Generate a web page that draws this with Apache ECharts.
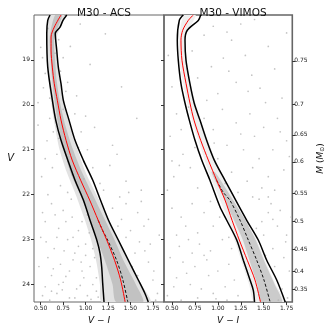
<!DOCTYPE html>
<html><head><meta charset="utf-8">
<script src="https://cdn.jsdelivr.net/npm/echarts@6/dist/echarts.min.js"></script>
<style>html,body{margin:0;padding:0;background:#fff}#c{width:330px;height:330px}</style>
</head><body><div id="c"></div>
<script>
// ---------- data (V-I, V) ----------
const xTicks = [0.5, 0.75, 1.0, 1.25, 1.5, 1.75];
const vTicks = [19, 20, 21, 22, 23, 24];
const massLabels = ['0.75','0.7','0.65','0.6','0.55','0.5','0.45','0.4','0.35'];
const massTickV = [19.02, 19.99, 20.67, 21.27, 21.97, 22.59, 23.21, 23.70, 24.11];
const vRange = [18.0, 24.39];
const acsXRange = [0.425, 1.873];
const vimXRange = [0.413, 1.812];

const acsRed = [[0.726,18.0],[0.651,18.27],[0.615,18.49],[0.615,18.78],[0.629,19.16],[0.651,19.53],[0.685,19.90],[0.726,20.34],[0.782,20.79],[0.850,21.23],[0.945,21.68],[1.045,22.12],[1.140,22.57],[1.235,23.01],[1.322,23.46],[1.390,23.90],[1.440,24.39]];
const acsLeft = [[0.604,18.0],[0.578,18.12],[0.567,18.41],[0.578,19.16],[0.630,19.90],[0.667,20.34],[0.726,20.79],[0.801,21.23],[0.882,21.68],[0.975,22.12],[1.049,22.57],[1.124,23.01],[1.160,23.30],[1.179,23.61],[1.190,23.97],[1.205,24.39]];
const acsRight = [[0.790,18.0],[0.748,18.12],[0.715,18.27],[0.662,18.41],[0.678,18.78],[0.696,19.16],[0.726,19.53],[0.752,19.90],[0.815,20.34],[0.882,20.79],[0.974,21.23],[1.080,21.68],[1.165,22.12],[1.255,22.57],[1.364,23.01],[1.476,23.46],[1.587,23.90],[1.661,24.20],[1.698,24.39]];
const acsDash = [[1.140,22.57],[1.190,22.80],[1.245,23.01],[1.345,23.46],[1.415,23.90],[1.470,24.39]];

const vimRed = [[0.732,18.0],[0.678,18.12],[0.617,18.34],[0.598,18.56],[0.609,19.01],[0.653,19.52],[0.696,19.96],[0.740,20.34],[0.813,20.79],[0.896,21.23],[0.987,21.68],[1.078,22.12],[1.155,22.57],[1.234,23.01],[1.321,23.46],[1.405,23.90],[1.465,24.39]];
const vimLeft = [[0.623,18.0],[0.580,18.12],[0.558,18.56],[0.569,19.01],[0.598,19.53],[0.642,19.96],[0.689,20.34],[0.751,20.79],[0.824,21.23],[0.914,21.68],[1.023,22.27],[1.097,22.57],[1.206,23.01],[1.278,23.46],[1.351,23.90],[1.387,24.13],[1.400,24.39]];
const vimRight = [[0.813,18.0],[0.787,18.12],[0.667,18.34],[0.642,18.56],[0.653,19.01],[0.696,19.53],[0.742,19.96],[0.805,20.34],[0.878,20.79],[0.961,21.23],[1.078,21.68],[1.215,22.20],[1.315,22.57],[1.441,23.01],[1.533,23.46],[1.642,23.90],[1.735,24.39]];
const vimDash = [[0.987,21.68],[1.060,21.95],[1.130,22.12],[1.242,22.57],[1.332,23.01],[1.424,23.46],[1.503,23.90],[1.570,24.39]];

// density bands of the star cloud (edges)
const acsOuterL = [[0.60,18.0],[0.57,18.5],[0.57,19.0],[0.59,19.5],[0.62,20.0],[0.66,20.5],[0.71,21.0],[0.79,21.5],[0.89,22.0],[0.98,22.5],[1.06,23.0],[1.12,23.5],[1.16,24.0],[1.18,24.39]];
const acsOuterR = [[0.76,18.0],[0.68,18.5],[0.69,19.0],[0.72,19.5],[0.77,20.0],[0.83,20.5],[0.91,21.0],[1.00,21.5],[1.12,22.0],[1.24,22.5],[1.36,23.0],[1.48,23.5],[1.62,24.0],[1.72,24.39]];
const acsInnerL = [[0.66,18.0],[0.60,18.5],[0.61,19.0],[0.63,19.5],[0.66,20.0],[0.70,20.5],[0.76,21.0],[0.83,21.5],[0.94,22.0],[1.04,22.5],[1.13,23.0],[1.22,23.5],[1.30,24.0],[1.34,24.39]];
const acsInnerR = [[0.74,18.0],[0.65,18.5],[0.66,19.0],[0.68,19.5],[0.72,20.0],[0.78,20.5],[0.86,21.0],[0.96,21.5],[1.08,22.0],[1.20,22.5],[1.32,23.0],[1.43,23.5],[1.56,24.0],[1.64,24.39]];
const vimOuterL = [[0.63,18.0],[0.58,18.5],[0.58,19.0],[0.62,19.5],[0.67,20.0],[0.74,20.5],[0.82,21.0],[0.90,21.5],[1.00,22.0],[1.10,22.5],[1.18,23.0],[1.26,23.5],[1.34,24.0],[1.40,24.39]];
const vimOuterR = [[0.76,18.0],[0.64,18.5],[0.66,19.0],[0.70,19.5],[0.76,20.0],[0.84,20.5],[0.93,21.0],[1.03,21.5],[1.15,22.0],[1.28,22.5],[1.42,23.0],[1.52,23.5],[1.63,24.0],[1.72,24.39]];
const vimInnerL = [[0.93,21.5],[1.05,22.0],[1.16,22.5],[1.27,23.0],[1.35,23.5],[1.43,24.0],[1.47,24.39]];
const vimInnerR = [[0.97,21.5],[1.13,22.0],[1.28,22.5],[1.41,23.0],[1.51,23.5],[1.62,24.0],[1.70,24.39]];

const acsField = [[0.50,18.72],[0.52,18.95],[0.55,19.30],[0.53,19.62],[0.70,18.55],[0.75,18.95],[0.94,18.20],[1.22,18.42],[0.80,19.50],[0.90,19.80],[0.58,18.30],[0.72,19.25],[1.05,19.10],[0.66,18.85],[0.47,19.95],[0.83,18.70],[1.40,19.60],[0.60,19.85],[0.78,19.70],[0.69,18.10],
[0.47,20.45],[0.57,20.80],[0.51,21.60],[0.63,21.40],[1.57,20.30],[1.27,21.35],[1.16,21.75],[0.60,20.30],[0.88,20.20],[0.95,20.60],[1.02,21.00],[0.68,21.10],[0.72,21.80],[0.80,21.95],[1.08,21.40],[1.30,20.90],[0.55,21.20],[0.92,20.95],[1.10,20.50],[0.64,20.60],[1.20,21.90],[0.85,21.55],[0.75,20.10],[1.45,21.70],[1.00,20.25],[0.58,22.00],[1.35,21.10],[0.70,20.75],[0.98,21.65],[1.62,21.90],
[0.62,22.20],[0.75,22.35],[0.85,22.50],[0.55,22.60],[0.70,22.75],[0.92,22.80],[0.50,22.95],[0.80,23.00],[1.00,23.10],[0.65,23.20],[0.88,23.30],[0.58,23.40],[0.95,23.50],[0.72,23.55],[1.05,23.60],[0.82,23.70],[0.62,23.80],[0.98,23.85],[0.75,23.95],[1.08,24.00],[0.55,24.05],[0.90,24.10],[0.68,24.20],[1.02,24.25],[0.82,24.30],[0.60,24.35],[1.12,24.15],[0.48,23.60],[0.78,22.60],[1.02,22.45],[0.92,23.15],[1.10,23.40],[0.70,24.00],[0.86,23.45],[0.52,24.25],[0.96,22.60],[1.12,23.85],[0.66,22.45],[1.06,24.33],[0.76,23.25],
[0.84,22.10],[0.68,22.95],[1.04,22.85],[0.56,23.05],[0.94,24.02],[1.14,24.28],[0.64,23.65],[0.88,24.30],[1.00,23.35],[0.74,24.12],[0.96,23.70],[1.08,23.20],[0.52,22.40],[0.86,22.95],[0.62,24.15],[0.78,23.82],
[1.30,22.30],[1.40,22.55],[1.50,22.80],[1.60,23.05],[1.45,22.20],[1.55,23.30],[1.70,23.50],[1.65,22.70],[1.75,23.90],[1.80,24.20],[1.45,22.95],[1.58,22.40],[1.72,23.10],[1.38,22.05],[1.68,24.30],[1.76,23.70],[1.52,23.60],[1.82,22.90],[1.62,22.15],[1.48,21.95],
[1.78,24.35],[1.66,23.25],[1.58,23.80],[1.70,22.55],[1.36,22.70]];

const vimField = [[1.10,18.38],[1.15,18.56],[1.06,18.96],[1.30,18.90],[1.37,19.34],[1.46,19.63],[0.93,19.15],[0.85,18.45],[1.25,18.20],[1.55,18.70],[0.78,19.40],[1.62,19.20],[1.00,19.75],[1.20,19.50],[0.50,19.60],[0.95,18.25],[1.70,19.85],[1.40,18.10],[0.88,19.90],[1.52,19.95],[0.72,18.80],[1.12,19.25],[1.75,18.40],[0.46,18.90],[1.33,19.70],
[0.55,20.20],[0.48,20.70],[0.62,21.10],[0.52,21.60],[0.85,20.30],[0.95,20.55],[1.05,20.10],[1.20,20.40],[1.35,20.20],[1.50,20.50],[1.65,20.30],[1.75,20.80],[1.10,20.90],[1.28,21.00],[1.45,21.20],[1.60,21.00],[0.70,21.40],[0.78,21.85],[1.15,21.50],[1.32,21.70],[1.55,21.60],[1.72,21.45],[1.00,21.20],[0.60,20.55],[0.45,21.90],[0.90,21.60],[1.40,20.70],[1.22,21.95],[1.62,21.90],[0.68,20.05],[1.08,21.75],[0.58,21.35],[1.78,21.15],[0.96,20.85],[1.48,21.85],[1.25,20.65],[0.75,20.95],[1.68,20.60],[0.50,21.25],[1.38,21.40],
[0.50,22.30],[0.60,22.50],[0.72,22.20],[0.85,22.40],[0.95,22.70],[0.55,22.90],[0.68,23.00],[0.80,23.10],[0.92,23.25],[1.05,23.00],[0.48,23.40],[0.62,23.50],[0.75,23.60],[0.88,23.45],[1.00,23.70],[1.12,23.55],[0.55,23.85],[0.70,24.00],[0.82,24.10],[0.95,24.20],[1.08,24.05],[1.18,23.90],[0.45,24.25],[0.60,24.35],[0.78,24.30],[0.90,23.80],[1.02,22.50],[0.65,22.70],[0.78,22.85],[1.12,22.95],[0.52,24.05],[0.98,24.32],[1.22,24.25],[0.85,23.35],[0.58,23.15],[1.10,24.35],[0.72,23.30],[0.92,22.15],
[1.45,22.10],[1.55,22.40],[1.65,22.70],[1.75,22.90],[1.50,22.90],[1.60,23.20],[1.72,23.40],[1.58,22.20],[1.78,23.70],[1.70,24.10],[1.48,22.60],[1.68,22.35],[1.76,24.30],[1.62,23.60],[1.38,22.05],[1.80,22.50],[1.55,22.05],[1.42,22.75],[1.52,23.35],
[1.66,24.35],[1.74,23.05],[1.60,22.55],[1.15,23.20],[0.66,23.75]];

// ---------- chart ----------
const chart = echarts.init(document.getElementById('c'), null, {renderer:'canvas'});
const FONT = 'DejaVu Sans';
const spine = '#666';

function band(idx, L, R, color, z) {
  return {
    type: 'custom', xAxisIndex: idx, yAxisIndex: idx, silent: true, clip: true, z: z,
    data: [[1.0, 21.0]],
    renderItem: function (params, api) {
      const pts = L.map(p => api.coord(p)).concat(R.slice().reverse().map(p => api.coord(p)));
      return {type: 'polygon', shape: {points: pts, smooth: 0.25}, style: {fill: color}};
    }
  };
}
function line(idx, data, color, width, type, z) {
  return {type: 'line', xAxisIndex: idx, yAxisIndex: idx, data: data, showSymbol: false, symbol: 'none',
    smooth: 0.3, silent: true, clip: true, z: z, lineStyle: {color: color, width: width, type: type}};
}
function field(idx, data) {
  return {type: 'scatter', xAxisIndex: idx, yAxisIndex: idx, data: data, symbolSize: 1.7,
    silent: true, z: 3, itemStyle: {color: '#b4b4b4'}};
}
function xAx(idx, range) {
  return {
    gridIndex: idx, type: 'value', min: range[0], max: range[1],
    axisLine: {show: false}, splitLine: {show: false},
    axisTick: {show: true, customValues: xTicks, length: 3, lineStyle: {color: '#333', width: 1}},
    axisLabel: {customValues: xTicks, formatter: v => v.toFixed(2), fontSize: 6, color: '#222', margin: 3, fontFamily: FONT},
    name: 'V − I', nameLocation: 'middle', nameGap: 11,
    nameTextStyle: {fontStyle: 'italic', fontSize: 9, color: '#111', fontFamily: FONT}
  };
}

const option = {
  animation: false,
  backgroundColor: '#fff',
  title: [
    {text: 'M30 - ACS', left: 99, top: 3, textAlign: 'center', textStyle: {fontSize: 10.5, fontWeight: 'normal', color: '#111', fontFamily: FONT, lineHeight: 11}},
    {text: 'M30 - VIMOS', left: 228, top: 3, textAlign: 'center', textStyle: {fontSize: 10.5, fontWeight: 'normal', color: '#111', fontFamily: FONT, lineHeight: 11}}
  ],
  grid: [
    {left: 34, top: 15, width: 130, height: 287, show: true, borderColor: spine, borderWidth: 1, outerBoundsMode: 'none'},
    {left: 164, top: 15, width: 128.3, height: 287, show: true, borderColor: spine, borderWidth: 1.6, outerBoundsMode: 'none'}
  ],
  xAxis: [xAx(0, acsXRange), xAx(1, vimXRange)],
  yAxis: [
    {gridIndex: 0, type: 'value', inverse: true, min: vRange[0], max: vRange[1], position: 'left',
     axisLine: {show: false}, splitLine: {show: false},
     axisTick: {show: true, customValues: vTicks, length: 3, lineStyle: {color: '#333'}},
     axisLabel: {customValues: vTicks, fontSize: 6, color: '#222', margin: 4, fontFamily: FONT},
     name: 'V', nameLocation: 'middle', nameRotate: 0, nameGap: 20,
     nameTextStyle: {fontStyle: 'italic', fontSize: 10, color: '#111', fontFamily: FONT, padding: [0, 0, 13, 0]}},
    {gridIndex: 1, type: 'value', inverse: true, min: vRange[0], max: vRange[1], position: 'left',
     axisLine: {show: false}, splitLine: {show: false},
     axisTick: {show: true, customValues: vTicks, length: 3, lineStyle: {color: '#333'}},
     axisLabel: {show: false}},
    {gridIndex: 1, type: 'value', inverse: true, min: vRange[0], max: vRange[1], position: 'right',
     axisLine: {show: false}, splitLine: {show: false},
     axisTick: {show: true, customValues: massTickV, length: 3, lineStyle: {color: '#333'}},
     axisLabel: {customValues: massTickV, fontSize: 6, color: '#222', margin: 2, fontFamily: FONT,
       formatter: function (v) {
         let best = 0;
         for (let i = 1; i < massTickV.length; i++) if (Math.abs(massTickV[i] - v) < Math.abs(massTickV[best] - v)) best = i;
         return massLabels[best];
       }},
     name: '{i|M} ({i|M}{s|⊙})', nameLocation: 'middle', nameRotate: 90, nameGap: 24,
     nameTextStyle: {fontSize: 9, color: '#111', fontFamily: FONT,
       rich: {i: {fontStyle: 'italic', fontSize: 9, fontFamily: FONT, color: '#111'},
              s: {fontSize: 6, fontFamily: FONT, color: '#111', padding: [3, 0, 0, 0]}}}}
  ],
  series: [
    band(0, acsOuterL, acsOuterR, '#e2e2e2', 1),
    band(0, acsInnerL, acsInnerR, '#c2c2c2', 2),
    band(1, vimOuterL, vimOuterR, '#efefef', 1),
    band(1, vimInnerL, vimInnerR, '#cbcbcb', 2),
    field(0, acsField),
    field(1, vimField),
    line(0, acsDash, '#111', 1, [3, 2], 5),
    line(0, acsLeft, '#000', 1.5, 'solid', 6),
    line(0, acsRight, '#000', 1.5, 'solid', 6),
    line(0, acsRed, '#ff0000', 1, 'solid', 7),
    line(1, vimDash, '#111', 1, [3, 2], 5),
    line(1, vimLeft, '#000', 1.5, 'solid', 6),
    line(1, vimRight, '#000', 1.5, 'solid', 6),
    line(1, vimRed, '#ff0000', 1, 'solid', 7)
  ]
};
chart.setOption(option);
</script></body></html>
